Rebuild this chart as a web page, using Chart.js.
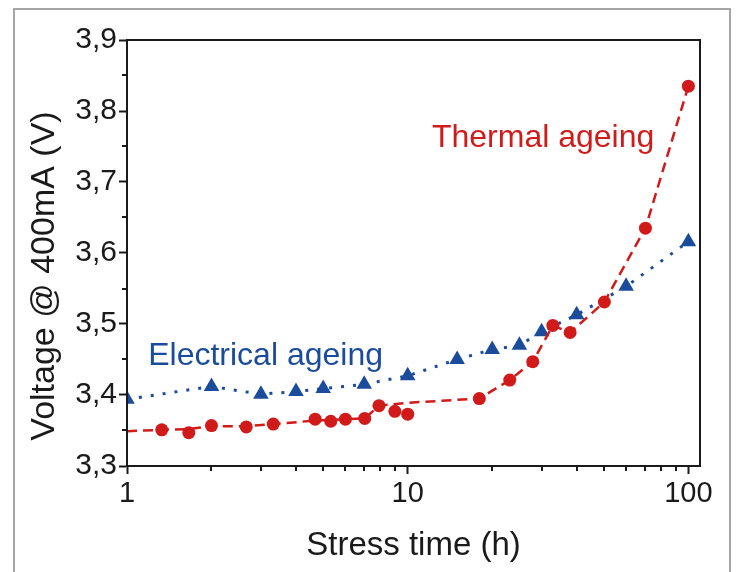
<!DOCTYPE html>
<html>
<head>
<meta charset="utf-8">
<title>Voltage vs stress time</title>
<script src="https://cdn.jsdelivr.net/npm/chart.js@4/dist/chart.umd.min.js"></script>
<style>
  html, body { margin:0; padding:0; background:#fff; overflow:hidden; }
  #frame { position:absolute; left:13px; top:8px; width:718px; height:640px; border:2px solid #a5a5a5; box-sizing:border-box; }
  #chart { position:absolute; left:0; top:0; }
</style>
</head>
<body>
<div id="frame"></div>
<canvas id="chart" width="739" height="572"></canvas>
<script>
// values
const thermalTime = [1.33, 1.66, 2.0, 2.66, 3.32, 4.68, 5.32, 6.0, 7.03, 7.9, 9.0, 10.0, 18.0, 23.1, 27.9, 32.9, 37.9, 50.2, 70.3, 100];
const thermalVolt = [3.351, 3.347, 3.357, 3.355, 3.359, 3.366, 3.363, 3.366, 3.367, 3.385, 3.377, 3.373, 3.395, 3.421, 3.447, 3.498, 3.488, 3.531, 3.635, 3.835];
// dashed trend line (does not pass through every marker)
const thermalFitTime = [1, 1.33, 1.66, 2.0, 2.66, 3.32, 4.68, 5.32, 6.0, 7.03, 7.9, 10.0, 18.0, 23.1, 27.9, 32.9, 37.9, 50.2, 70.3, 100];
const thermalFitVolt = [3.349, 3.351, 3.352, 3.356, 3.356, 3.359, 3.364, 3.365, 3.366, 3.367, 3.385, 3.389, 3.395, 3.421, 3.447, 3.498, 3.488, 3.531, 3.635, 3.835];
const elecTime = [1, 2, 3, 4, 5, 7, 10, 15, 20, 25, 30, 40, 60, 100];
const elecVolt = [3.394, 3.412, 3.401, 3.405, 3.409, 3.415, 3.427, 3.450, 3.464, 3.470, 3.489, 3.513, 3.553, 3.616];

const xTicks = [1, 10, 100];
const xMinor = [2, 3, 4, 5, 6, 7, 8, 9, 20, 30, 40, 50, 60, 70, 80, 90];
const yTicks = [3.3, 3.4, 3.5, 3.6, 3.7, 3.8, 3.9];
const yMinor = [3.35, 3.45, 3.55, 3.65, 3.75, 3.85];

const xTitle = "Stress time (h)";
const yTitle = "Voltage @ 400mA (V)";
const thermalLabel = "Thermal ageing";
const elecLabel = "Electrical ageing";

const RED = "#d11a1a";
const BLUE = "#1b4c9c";
const INK = "#1a1a1a";
const FONT = '"Liberation Sans", Arial, sans-serif';

const pts = (xs, ys) => xs.map((t, i) => ({ x: t, y: ys[i] }));

const extras = {
  id: "extras",
  afterDraw(chart) {
    const { ctx, chartArea: a, scales: { x, y } } = chart;
    ctx.save();
    ctx.strokeStyle = INK;
    ctx.lineWidth = 2;
    ctx.strokeRect(a.left, a.top, a.right - a.left, a.bottom - a.top);

    // minor ticks
    ctx.beginPath();
    yMinor.forEach(v => { const p = Math.round(y.getPixelForValue(v)); ctx.moveTo(a.left - 5, p); ctx.lineTo(a.left, p); });
    xMinor.forEach(v => { const p = Math.round(x.getPixelForValue(v)); ctx.moveTo(p, a.bottom); ctx.lineTo(p, a.bottom + 5); });
    ctx.stroke();

    // series labels
    ctx.font = "32px " + FONT;
    ctx.textBaseline = "alphabetic";
    ctx.textAlign = "left";
    ctx.fillStyle = RED;
    ctx.fillText(thermalLabel, x.getPixelForValue(12.2), y.getPixelForValue(3.749));
    ctx.fillStyle = BLUE;
    ctx.fillText(elecLabel, x.getPixelForValue(1.19), y.getPixelForValue(3.442));

    // y axis title
    ctx.fillStyle = INK;
    ctx.font = "34px " + FONT;
    ctx.textAlign = "center";
    ctx.translate(54, (a.top + a.bottom) / 2 + 23);
    ctx.rotate(-Math.PI / 2);
    ctx.fillText(yTitle, 0, 0);
    ctx.restore();
  }
};

new Chart(document.getElementById("chart"), {
  type: "scatter",
  data: {
    datasets: [
      {
        label: "Thermal trend", data: pts(thermalFitTime, thermalFitVolt), showLine: true,
        borderColor: RED, borderWidth: 2.5, borderDash: [10, 6], pointRadius: 0, tension: 0
      },
      {
        label: thermalLabel, data: pts(thermalTime, thermalVolt), showLine: false,
        pointStyle: "circle", pointRadius: 6.5, pointBackgroundColor: RED, pointBorderColor: RED, pointBorderWidth: 0
      },
      {
        label: elecLabel, data: pts(elecTime, elecVolt), showLine: true,
        borderColor: BLUE, borderWidth: 3, borderDash: [3, 9], tension: 0,
        pointStyle: "triangle", pointRadius: 9, pointBackgroundColor: BLUE, pointBorderColor: BLUE, pointBorderWidth: 0
      }
    ]
  },
  options: {
    responsive: false,
    animation: false,
    devicePixelRatio: 1,
    layout: { padding: { left: 0, right: 39, top: 40, bottom: 0 } },
    plugins: { legend: { display: false }, tooltip: { enabled: false } },
    scales: {
      x: {
        type: "logarithmic", min: 1, max: 110,
        afterBuildTicks: s => { s.ticks = xTicks.map(v => ({ value: v })); },
        afterFit: s => { s.height = 106; },
        grid: { drawOnChartArea: false, drawTicks: true, tickLength: 8, tickWidth: 2, tickColor: INK },
        border: { display: true, color: INK, width: 2 },
        ticks: { color: INK, font: { family: FONT, size: 29 }, padding: 3, maxRotation: 0, callback: v => String(v) },
        title: { display: true, text: xTitle, color: INK, font: { family: FONT, size: 33 }, padding: { top: 6, bottom: 6 } }
      },
      y: {
        min: 3.3, max: 3.9,
        afterBuildTicks: s => { s.ticks = yTicks.map(v => ({ value: v })); },
        afterFit: s => { s.width = 127; },
        grid: { drawOnChartArea: false, drawTicks: true, tickLength: 8, tickWidth: 2, tickColor: INK },
        border: { display: true, color: INK, width: 2 },
        ticks: { color: INK, font: { family: FONT, size: 30 }, padding: 2, callback: v => v.toFixed(1).replace(".", ",") }
      }
    }
  },
  plugins: [extras]
});
</script>
</body>
</html>
